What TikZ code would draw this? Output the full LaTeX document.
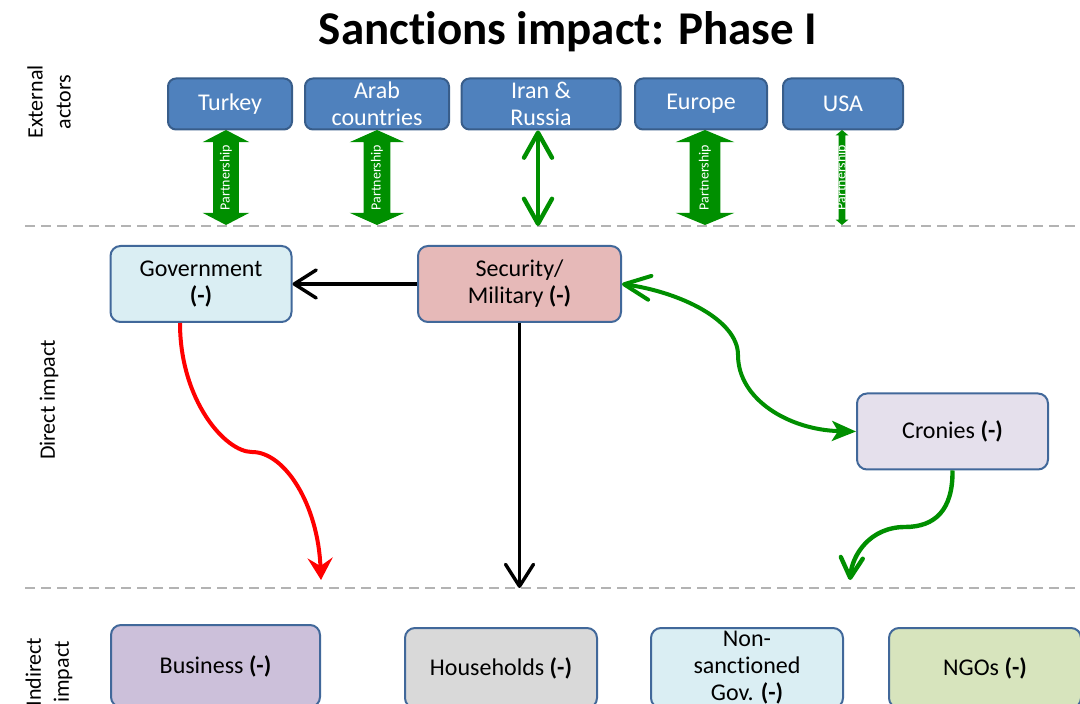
\documentclass[tikz,border=0pt]{standalone}
\usepackage{fontspec}
\setmainfont{Carlito}[Ligatures=NoCommon]
\usepackage{xcolor}
\definecolor{cActor}{HTML}{4F81BD}
\definecolor{cActorEdge}{HTML}{385D8A}
\definecolor{cEdge}{HTML}{41689A}
\definecolor{cGreen}{HTML}{008F00}
\definecolor{cRed}{HTML}{FF0000}
\definecolor{cDash}{HTML}{B3B3B3}
\definecolor{cGov}{HTML}{DAEEF3}
\definecolor{cSec}{HTML}{E6B9B8}
\definecolor{cCrony}{HTML}{E5E0EC}
\definecolor{cBiz}{HTML}{CCC0DA}
\definecolor{cHouse}{HTML}{D9D9D9}
\definecolor{cNgo}{HTML}{D7E4BD}
\usepackage{tikz}
\usetikzlibrary{arrows.meta,shapes.arrows}
\tikzset{
  box-text/.style={font=\fontsize{12}{13.5}\selectfont},
  node-actor/.style={draw=cActorEdge,line width=1pt,fill=cActor,rounded corners=4pt,
    minimum height=25.5pt,inner sep=0pt,align=center,text=white,box-text},
  node-box/.style={draw=cEdge,line width=1pt,rounded corners=5pt,
    minimum height=38pt,inner sep=0pt,align=center,box-text},
  side-label/.style={rotate=90,align=center,font=\fontsize{11}{14}\selectfont},
  % block arrows: shaft from inner ysep, no text inside
  partner/.style={double arrow,fill=cGreen,rotate=90,minimum height=47.5pt,inner xsep=0pt},
  partner-text/.style={rotate=90,text=white,font=\fontsize{7}{8}\selectfont,inner sep=0pt},
  divider/.style={draw=cDash,line width=1pt,dash pattern=on 5pt off 3pt},
  arrow-black/.style={-{Straight Barb[length=11pt,width=14pt,round]},line width=1.7pt},
  arrow-red/.style={-{Stealth[length=11pt,width=12.5pt,inset=4pt]},line width=2pt,draw=cRed},
  arrow-green/.style={line width=2pt,draw=cGreen},
}

\begin{document}
\begin{tikzpicture}[x=0.5pt,y=-0.5pt]
  \clip (0,0) rectangle (1080,704);

  \node[font=\fontsize{23.5}{28}\selectfont\bfseries] (title) at (568,32) {Sanctions impact: Phase I};

  % layer lines
  \coordinate (ext-l) at (25,226);
  \coordinate (ext-r) at (1080,226);
  \coordinate (ind-l) at (25,588);
  \coordinate (ind-r) at (1080,588);
  \draw[divider] (ext-l) -- (ext-r);
  \draw[divider] (ind-l) -- (ind-r);

  \node[side-label] (lbl-ext) at (49,102) {External\\actors};
  \node[side-label] (lbl-direct) at (49,400) {Direct impact};
  \node[side-label] (lbl-indirect) at (49,672) {Indirect\\impact};

  \foreach \name/\x/\w/\txt in {turkey/230/62/Turkey, arab/377/72/{Arab\\countries},
      iran/541/79.5/{Iran \&\\Russia}, europe/701/66/Europe, usa/843/60/USA} {
    \node[node-actor,minimum width=\w pt] (\name) at (\x,104) {\txt};
  }

  \foreach \name/\x/\ys/\ext/\ang in {turkey/226/6.25/5.25/125, arab/377/6.5/7/132,
      europe/705/7.5/7/135, usa/842/1.5/1.5/100} {
    \node[partner,inner ysep=\ys pt,double arrow head extend=\ext pt,
      double arrow tip angle=\ang] (\name-link) at (\x,177.5) {};
    \node[partner-text] (\name-tag) at (\name-link) {Partnership};
  }
  \draw[arrow-green,line width=2.2pt,
    {Straight Barb[length=12.5pt,width=14pt,round]}-{Straight Barb[length=12.5pt,width=14pt,round]}]
    ([xshift=-1.5pt]iran.south) -- ([xshift=-1.5pt]iran.south |- ext-l);

  % direct impact
  \node[node-box,fill=cGov,minimum width=90.5pt] (gov) at (201,284) {Government\\\textbf{(-)}};
  \node[node-box,fill=cSec,minimum width=101.5pt] (sec) at (519.5,284) {Security/\\Military \textbf{(-)}};
  \node[node-box,fill=cCrony,minimum width=95.5pt] (cronies) at (952.5,431.5) {Cronies \textbf{(-)}};

  % indirect impact
  \node[node-box,fill=cBiz,minimum width=104.5pt,minimum height=41pt] (business) at (215.5,666) {Business \textbf{(-)}};
  \node[node-box,fill=cHouse,minimum width=96pt,minimum height=40pt] (households) at (501,668) {Households \textbf{(-)}};
  \node[node-box,fill=cGov,minimum width=96pt,minimum height=40pt] (nonsanc) at (747,668) {Non-\\sanctioned\\Gov. \textbf{(-)}};
  \node[node-box,fill=cNgo,minimum width=96pt,minimum height=40pt] (ngos) at (985,668) {NGOs \textbf{(-)}};

  \coordinate (business-in) at (321,580);
  \coordinate (nonsanc-in) at (850,580);

  \draw[arrow-black] (sec.west) -- (gov.east);
  \draw[arrow-black] (sec.south) -- (sec.south |- ind-l);
  \draw[arrow-red] ([xshift=-10.5pt]gov.south) .. controls (180,400) and (225,452) .. (252,452)
    .. controls (285,452) and (318,505) .. (business-in);
  \draw[arrow-green,{Straight Barb[length=13pt,width=12pt,round]}-{Stealth[length=12pt,width=10pt,inset=3pt]}]
    (sec.east) .. controls (680,292) and (738,320) .. (738,355)
    .. controls (738,400) and (790,430) .. (cronies.west);
  \draw[arrow-green,line width=2.2pt,-{Straight Barb[length=10pt,width=11pt,round]}]
    (cronies.south) .. controls (953,510) and (935,527) .. (905,527)
    .. controls (870,527) and (852,555) .. (nonsanc-in);
\end{tikzpicture}
\end{document}
